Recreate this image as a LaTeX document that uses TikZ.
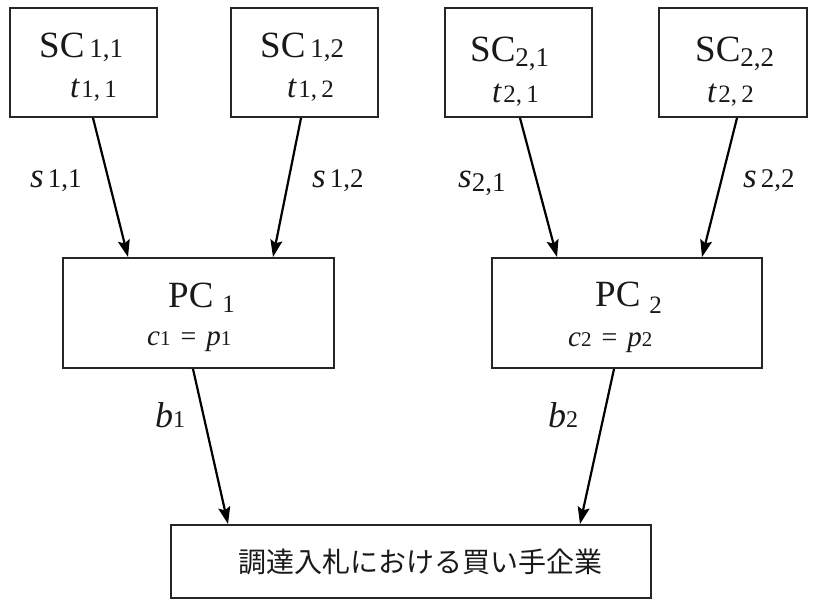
\documentclass[tikz,border=0pt]{standalone}
\usepackage{fontspec}
\setmainfont{Liberation Serif}
\newfontfamily\jpfont{Noto Sans CJK JP}
\usetikzlibrary{arrows.meta}
\newcommand\fs[2]{{\fontsize{#1}{#1}\selectfont #2}}
\begin{document}
\begin{tikzpicture}[x=1pt,y=-1pt,
  box/.style={draw=black!85,line width=2pt,minimum width=147pt,minimum height=109pt,inner sep=0pt},
  pcbox/.style={draw=black!85,line width=2pt,minimum width=271pt,minimum height=110pt,inner sep=0pt},
  txt/.style={anchor=base west,inner sep=0pt,text=black!90},
  arr/.style={line width=2.2pt,-{Stealth[length=17pt,width=12pt,inset=3pt]}}]
\useasboundingbox (0,0) rectangle (813,601);
% boxes
\node[box] (sc11) at (83.5,62.5) {};
\node[box] (sc12) at (304.5,62.5) {};
\node[box] (sc21) at (518.5,62.5) {};
\node[box,minimum width=148pt] (sc22) at (733,62.5) {};
\node[pcbox] (pc1) at (198.5,313) {};
\node[pcbox,minimum width=270pt] (pc2) at (627,313) {};
\node[draw=black!85,line width=2pt,minimum width=480pt,minimum height=73pt,inner sep=0pt] (buyer) at (410.5,561.5) {};
% texts in SC boxes
\node[txt] (sc11a) at (39,58) {\fs{37}{SC}\hspace{5pt}\fs{27}{1,1}};
\node[txt] (sc11b) at (70,98) {\fs{33}{\itshape t}\hspace{2pt}\fs{25}{1,\,1}};
\node[txt] (sc12a) at (260,58) {\fs{37}{SC}\hspace{5pt}\fs{27}{1,2}};
\node[txt] (sc12b) at (287,98) {\fs{33}{\itshape t}\hspace{2pt}\fs{25}{1,\,2}};
\node[txt] (sc21a) at (470,62) {\fs{37}{SC}\raisebox{-5pt}{\fs{27}{2,1}}};
\node[txt] (sc21b) at (492,103) {\fs{33}{\itshape t}\hspace{2pt}\fs{25}{2,\,1}};
\node[txt] (sc22a) at (695,62) {\fs{37}{SC}\raisebox{-5pt}{\fs{27}{2,2}}};
\node[txt] (sc22b) at (707,103) {\fs{33}{\itshape t}\hspace{2pt}\fs{25}{2,\,2}};
% texts in PC boxes
\node[txt] (pc1a) at (168,308) {\fs{37}{PC}\hspace{9pt}\raisebox{-5pt}{\fs{25}{1}}};
\node[txt] (pc1b) at (147,345) {\fs{29}{\itshape c}\fs{21}{1}\hspace{10pt}\fs{28}{=}\hspace{10pt}\fs{29}{\itshape p}\fs{21}{1}};
\node[txt] (pc2a) at (595,306) {\fs{37}{PC}\hspace{9pt}\raisebox{-7pt}{\fs{25}{2}}};
\node[txt] (pc2b) at (568,346) {\fs{29}{\itshape c}\fs{21}{2}\hspace{10pt}\fs{28}{=}\hspace{10pt}\fs{29}{\itshape p}\fs{21}{2}};
% buyer text
\node[inner sep=0pt,text=black!90] (buyert) at (420,562) {\jpfont\fs{28}{調達入札における買い手企業}};
% connector labels
\node[txt] (l11) at (30,188) {\fs{35}{\itshape s}\hspace{4pt}\fs{27}{1,1}};
\node[txt] (l12) at (312,188) {\fs{35}{\itshape s}\hspace{4pt}\fs{27}{1,2}};
\node[txt] (l21) at (458,188) {\fs{35}{\itshape s}\raisebox{-4pt}{\fs{27}{2,1}}};
\node[txt] (l22) at (743,188) {\fs{35}{\itshape s}\hspace{4pt}\fs{27}{2,2}};
\node[txt] (lb1) at (155,427) {\fs{36}{\itshape b}\fs{24}{1}};
\node[txt] (lb2) at (548,427) {\fs{36}{\itshape b}\fs{24}{2}};
% connectors
\draw[arr] ([xshift=9.5pt]sc11.south) -- ([xshift=-70.5pt]pc1.north);
\draw[arr] ([xshift=-3.5pt]sc12.south) -- ([xshift=74.5pt]pc1.north);
\draw[arr] ([xshift=1.5pt]sc21.south) -- ([xshift=-70pt]pc2.north);
\draw[arr] ([xshift=4pt]sc22.south) -- ([xshift=75pt]pc2.north);
\draw[arr] ([xshift=-5.5pt]pc1.south) -- ([xshift=-182.5pt]buyer.north);
\draw[arr] ([xshift=-13pt]pc2.south) -- ([xshift=169.5pt]buyer.north);
\end{tikzpicture}
\end{document}
